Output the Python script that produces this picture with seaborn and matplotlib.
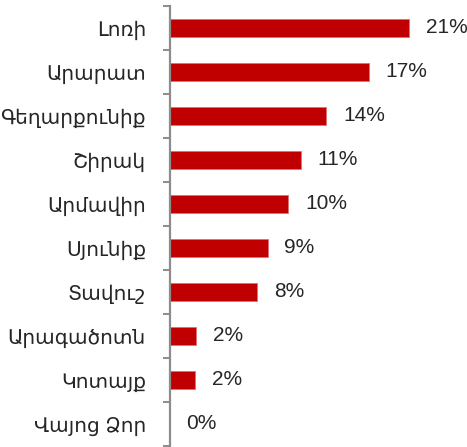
import numpy as np
import pandas as pd
import seaborn as sns
import matplotlib.pyplot as plt

# regions and shares (%)
regions = ["Լոռի", "Արարատ", "Գեղարքունիք", "Շիրակ", "Արմավիր",
           "Սյունիք", "Տավուշ", "Արագածոտն", "Կոտայք", "Վայոց Ձոր"]
shares = [20.8, 17.3, 13.6, 11.4, 10.3, 8.5, 7.6, 2.3, 2.2, 0.0]
share_labels = ["21%", "17%", "14%", "11%", "10%", "9%", "8%", "2%", "2%", "0%"]

df = pd.DataFrame({"region": regions, "share": shares})

sns.set_style("white")
plt.rcParams["font.family"] = ["Liberation Sans", "DejaVu Sans"]

fig = plt.figure(figsize=(4.67, 4.47), dpi=100)
ax = fig.add_axes([169.5 / 467, 1 / 447, 297.5 / 467, 440 / 447])

sns.barplot(data=df, x="share", y="region", order=regions, orient="h",
            color="#C00000", saturation=1, width=0.4,
            edgecolor="#E07070", linewidth=0.6, ax=ax)

n = len(regions)
ax.set_xlim(0, 25.8)
ax.set_ylim(n - 0.5, -0.5)
ax.set_xlabel("")
ax.set_ylabel("")
ax.set_xticks([])

for s in ["top", "right", "bottom"]:
    ax.spines[s].set_visible(False)
ax.spines["left"].set_color("#8C8C8C")
ax.spines["left"].set_linewidth(1.6)

# tick marks at category boundaries, labels at category centres
ax.set_yticks(np.arange(-0.5, n, 1.0), labels=[""] * (n + 1))
ax.set_yticks(np.arange(n), labels=regions, minor=True)
ax.tick_params(axis="y", which="major", left=True, length=5, width=1.4,
               color="#8C8C8C", direction="out")
ax.tick_params(axis="y", which="minor", left=True, length=0, pad=17,
               labelsize=14.5)

ax.bar_label(ax.containers[0], labels=share_labels, padding=12, fontsize=15)

fig.savefig("out.png", dpi=100)
